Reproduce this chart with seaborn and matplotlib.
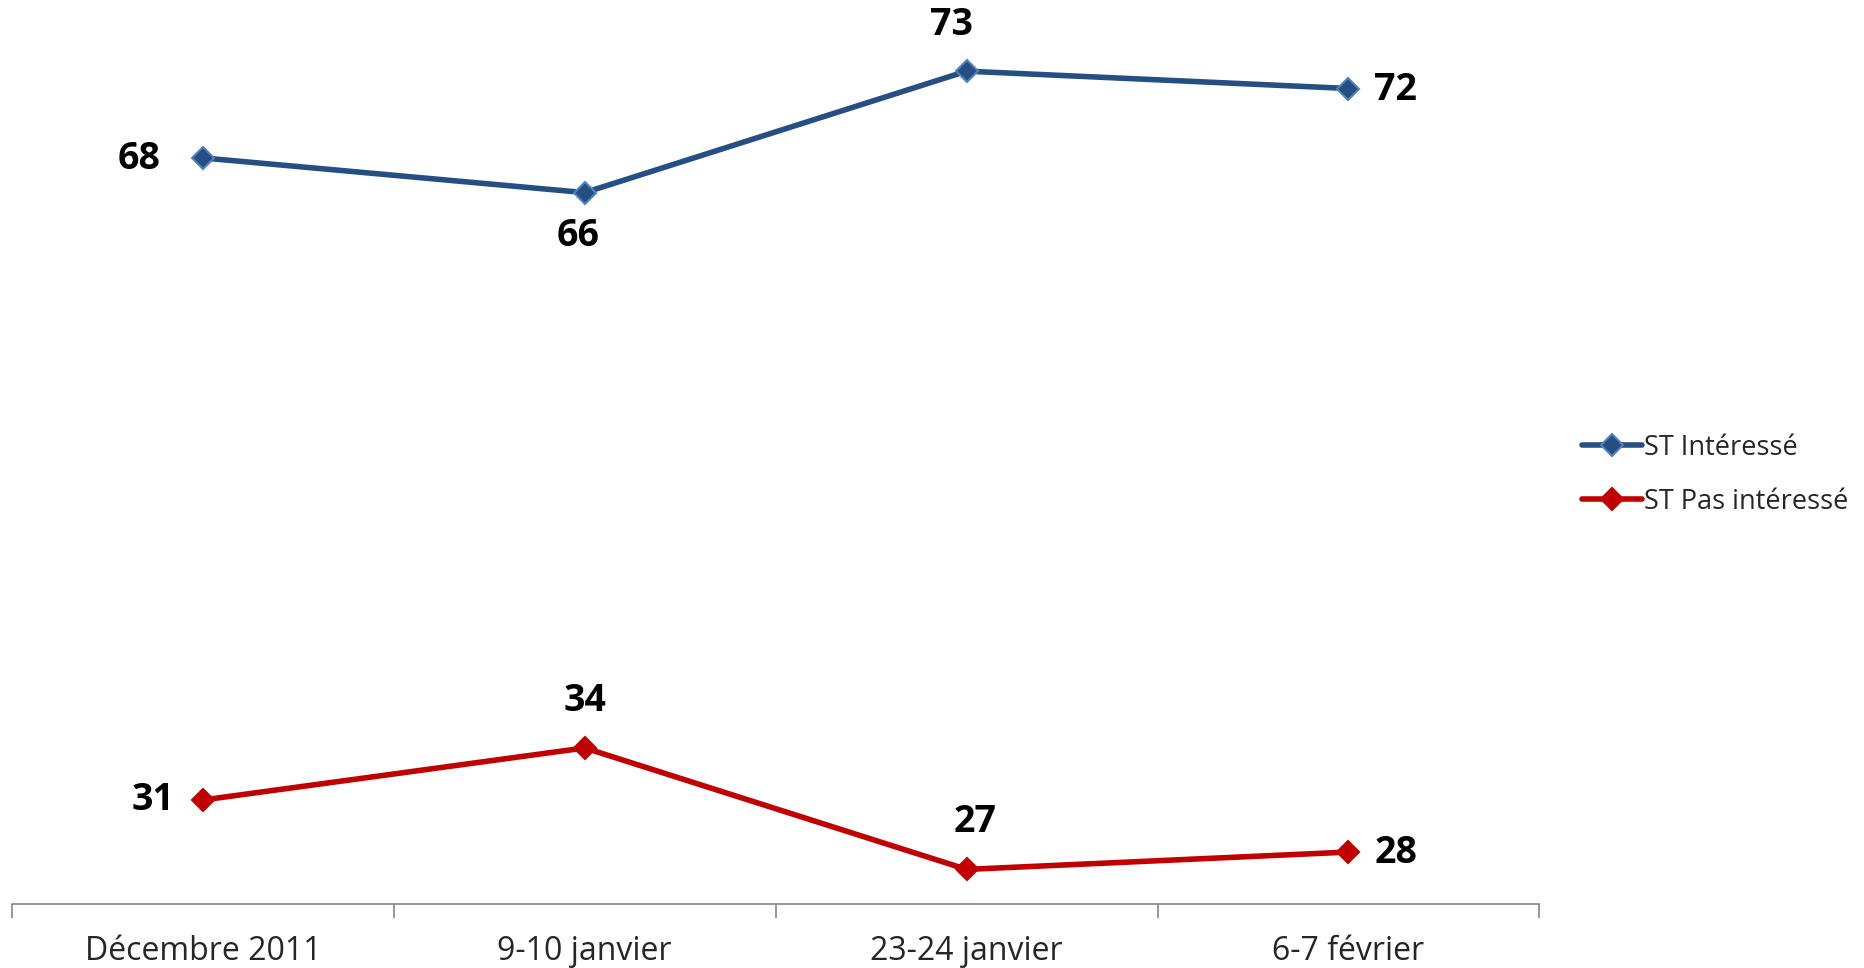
import matplotlib.pyplot as plt
import pandas as pd
import seaborn as sns

periods = ["Décembre 2011", "9-10 janvier", "23-24 janvier", "6-7 février"]
interesse = [68, 66, 73, 72]
pas_interesse = [31, 34, 27, 28]
series_names = ["ST Intéressé", "ST Pas intéressé"]

# label placement per point: (dx, dy) in points
label_offsets = {
    "ST Intéressé": [(-46, -1), (-5, -31), (-11, 33), (34, -1)],
    "ST Pas intéressé": [(-36, 0), (0, 34), (6, 34), (34, -1)],
}

df = pd.DataFrame({
    "period": periods * 2,
    "x": list(range(len(periods))) * 2,
    "value": interesse + pas_interesse,
    "series": [series_names[0]] * 4 + [series_names[1]] * 4,
})

sns.set_style("white")
plt.rcParams["font.family"] = ["Open Sans", "DejaVu Sans"]

fig = plt.figure(figsize=(18.65, 9.68), dpi=100)
ax = fig.add_axes([0.0064, 0.066, 0.819, 0.934])

palette = {"ST Intéressé": "#254E82", "ST Pas intéressé": "#C00000"}
edge = {"ST Intéressé": "#4F81BD", "ST Pas intéressé": "#C00000"}

for name in series_names:
    sub = df[df["series"] == name]
    sns.lineplot(data=sub, x="x", y="value", ax=ax, color=palette[name],
                 linewidth=4, marker="D", markersize=11,
                 markerfacecolor=palette[name], markeredgecolor=edge[name],
                 markeredgewidth=1.5, label=name)
    for (xi, yi), off in zip(zip(sub["x"], sub["value"]), label_offsets[name]):
        ax.annotate(str(yi), (xi, yi), xytext=off, textcoords="offset points",
                    ha="center", va="center", fontsize=27, fontweight="bold",
                    color="black")

ax.set_xlim(-0.5, 3.5)
ax.set_ylim(25.0, 77.1)
ax.set_xticks(range(len(periods)))
ax.set_xticklabels(periods, fontsize=23)
ax.set_xticks([-0.5, 0.5, 1.5, 2.5, 3.5], minor=True)
ax.tick_params(axis="x", which="major", bottom=False, length=0, pad=22)
ax.tick_params(axis="x", which="minor", bottom=True, length=10, width=1.2,
               color="#868686", direction="out")
ax.set_yticks([])
ax.set_xlabel("")
ax.set_ylabel("")
for side in ["top", "right", "left"]:
    ax.spines[side].set_visible(False)
ax.spines["bottom"].set_color("#868686")
ax.spines["bottom"].set_linewidth(1.2)

ax.legend(loc="center left", bbox_to_anchor=(1.012, 0.475), frameon=False,
          fontsize=19.5, handlelength=2.2, handletextpad=0.1, labelspacing=0.95)

fig.savefig("out.png", dpi=100)
plt.close(fig)
